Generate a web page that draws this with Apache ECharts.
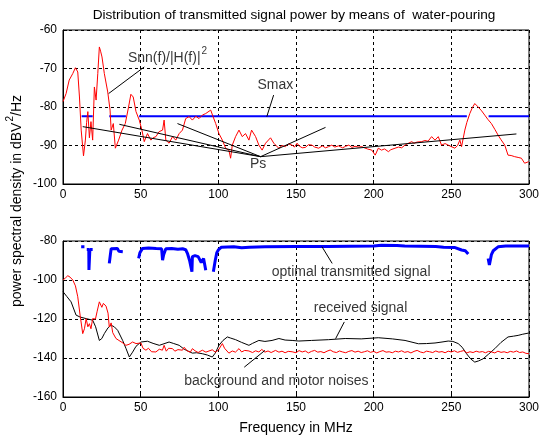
<!DOCTYPE html>
<html><head><meta charset="utf-8">
<script src="https://cdn.jsdelivr.net/npm/echarts@6/dist/echarts.min.js"></script>
<style>html,body{margin:0;padding:0;background:#fff}#c{width:542px;height:438px}</style>
</head><body><div id="c"></div>
<script>
// ---------- DATA ----------
const xTicks = [0, 50, 100, 150, 200, 250, 300];
const topYTicks = [-100, -90, -80, -70, -60];
const botYTicks = [-160, -140, -120, -100, -80];

// top plot: Snn(f)/|H(f)|^2  [MHz, dB]
const snnOverH = [
[0,-78.6],[2,-76.5],[4,-73],[5,-72.5],[6.3,-71.3],[8,-69.8],[9.5,-70.9],[10.6,-77.4],[11.7,-86],[13.2,-92.7],
[14.4,-88.6],[15.2,-84],[16,-81.2],[17,-88],[18,-83.8],[19.1,-88.6],[20.2,-74.8],[21.3,-78.2],[22.4,-71.3],[23.4,-64.4],
[24.2,-65.5],[25.1,-67],[26.6,-71.3],[28.8,-76.1],[30.3,-80.8],[31,-86],[32.4,-84.3],[33.7,-90.7],[35.8,-88.6],[38,-86],
[40.1,-84.3],[42.2,-80],[43.7,-76.7],[45.2,-77.4],[47,-81.2],[49.1,-83.4],[50.8,-86],[52.3,-89],[54.4,-86.9],[56.6,-88.6],
[58,-88],[59.8,-87.7],[61.9,-86.4],[64.1,-86],[65.1,-83.4],[66.2,-88.6],[68.3,-89.4],[70.5,-87.7],[72.6,-88.6],[74.8,-86.9],
[76.9,-86],[79,-83],[81.2,-82.5],[83.3,-83.4],[85.5,-82.4],[87.6,-83],[89.7,-82.1],[91.9,-81.7],[95.1,-80.8],[96.6,-82.5],
[98.3,-84.3],[100.4,-86.9],[102.6,-88.6],[104.7,-90.7],[106.8,-91.2],[107.9,-93.3],[109,-89.9],[111.1,-87.7],[113.3,-86],[115.4,-87.7],
[117.5,-86.9],[119.7,-88.6],[121.4,-86],[124,-87.7],[126.1,-89.9],[128.2,-91.2],[130.4,-89.4],[133.6,-88],[135.7,-89.4],[138.9,-90.7],
[141,-90],[143.2,-90.3],[145,-89.6],[147.5,-89.9],[149,-90.4],[150.7,-89.4],[152,-90.1],[154,-90.6],[156,-90.5],[158,-89.8],
[160.3,-89.9],[162,-90.4],[164.6,-90.7],[167,-90.1],[169,-90.6],[171,-90.3],[173,-89.9],[175,-90.4],[177.4,-90.1],[180,-90.6],
[182,-90.2],[184,-89.9],[186,-90.5],[188,-90.2],[190,-90.4],[192.4,-90.3],[194,-90.6],[196,-90.9],[198.8,-91.2],[200,-91.5],
[201,-92.5],[203,-90.7],[205,-91.2],[207,-90.9],[209.5,-91.6],[211,-91.1],[213.8,-90.7],[216,-90.4],[218,-90.6],[220.2,-89.9],
[222,-89.5],[224.5,-89],[226,-89.4],[228,-89.1],[230.9,-89],[233,-88.7],[235,-88.9],[237.3,-87.7],[239.5,-88.6],[241.6,-87.7],
[243.7,-89.9],[246,-89.5],[248,-89.9],[250,-90.3],[252.3,-90.7],[254,-90],[255.5,-88.6],[256.6,-90.3],[258.7,-86],[260,-84],
[261.9,-81.7],[263.5,-80.2],[265.1,-79.1],[267.3,-80],[269.5,-81],[271.5,-82.1],[273.5,-83.2],[275.8,-84.3],[278,-85.8],[280.1,-87.3],
[282,-88.5],[284.4,-89.9],[286.5,-92.5],[288.5,-92.6],[290.8,-92.9],[293,-93.1],[295.1,-93.3],[297.2,-94.6],[299.8,-94.2]
];
// top plot: Smax level and the frequency ranges where it is drawn
const smaxLevel = -82.4;
const smaxRanges = [[12,19.1],[29.8,40.5],[49,260],[274,300]];
// top plot: Ps convergence point and the line ends pointing at it
const psPoint = [127.2, -92.9];
const psEnds = [[12.7,-85.1],[36.3,-84.5],[73.7,-84.3],[169,-85.3],[291.9,-87]];

// bottom plot: optimal transmitted signal (null = gap)
const optimalTx = [
[11.7,-82.9],[13.8,-82.9],null,
[15.3,-84.3],[16.6,-84.3],[16.7,-94.9],[17.2,-94.9],[17.3,-84.3],[19.1,-84.3],null,
[29.8,-91.5],[30.5,-87],[31,-84],[32,-83.6],[35,-83.8],[36,-85.3],[38.5,-85.5],null,
[48.7,-88.9],[49.5,-86],[51.2,-83.8],[55,-83.6],[60,-83.9],[63.5,-84],[64.1,-89.8],[64.8,-87],[66.2,-84],[70,-83.8],
[74,-84.2],[77,-84],[79,-84.5],[80.1,-86.3],[81.5,-90],[83,-95.8],[83.3,-88],[85,-87.5],[87,-88],[87.6,-87],
[89,-91],[90.5,-89],[91.9,-95],null,
[96.8,-95.8],[98,-90],[99,-86],[100,-84.6],[102,-83.2],[110,-83],[115,-83.5],[120,-83.2],[130,-83],[150,-82.8],
[170,-82.8],[200,-82.6],[205,-82.2],[215,-82.3],[220,-82.6],[240,-82.8],[245,-83.2],[252,-83.3],[256.6,-84.6],[259,-85],[260.9,-86.7],null,
[273.7,-89],[274.5,-92.3],[275.8,-87],[277,-85],[280.1,-83],[285,-82.6],[300,-82.6]
];
// bottom plot: received signal
const receivedSig = [
[0,-106],[2.5,-108.5],[5.2,-111.2],[8.4,-118],[11,-119],[14.9,-119.8],[19.1,-120.6],[21,-124],[23.4,-131],[25,-130],
[26.6,-127.5],[29,-124.5],[31,-123.2],[33,-124],[35.2,-125.8],[38.4,-131],[40.5,-135],[42.7,-139.5],[43.7,-139.8],[44.8,-137],
[47,-134],[50.2,-131.8],[54.4,-131.4],[58,-132.5],[62,-133.5],[65,-132.7],[68.3,-131.8],[71,-132.5],[74.8,-133.5],[78,-135.5],
[83.3,-137.5],[86,-137.3],[89.7,-137.8],[93,-138.5],[96.1,-139.5],[98,-137.5],[100.4,-133.5],[103,-131],[105.8,-129.2],[108,-129.8],
[111.1,-130.6],[115,-132],[119.7,-133.5],[122,-132.5],[126.1,-131],[130,-131.5],[134.6,-131],[139,-130],[143,-130.8],[147.5,-131],
[151.8,-131.3],[160,-131],[171,-130.6],[181.7,-130],[192,-130.2],[203,-129.6],[212,-130.2],[220.2,-131],[228.8,-132.7],[234,-132.6],
[239.5,-132.3],[244,-131.8],[248,-131.3],[251,-131.5],[254.4,-132.6],[257,-134.5],[259.8,-137.8],[262.5,-140.5],[265.1,-142.1],[267.5,-141.5],
[270.5,-140.4],[274,-138],[278,-135.2],[282,-132],[286.5,-129.2],[290,-128.8],[293,-128.4],[296,-127.8],[299.8,-127.2]
];
// bottom plot: background and motor noises
const bgNoise = [
[0,-100],[1.5,-99],[3.1,-97.8],[4.5,-98.5],[6.3,-100],[8,-103],[9.5,-108.6],[11,-118],[12.7,-127.5],[13.8,-125],
[14.9,-119.8],[16,-124],[17,-122.4],[18,-125],[19.1,-119.8],[20.9,-120],[22,-116],[23.4,-111.2],[25,-114],[26,-112],
[27.7,-113.4],[29,-117],[29.8,-124.1],[31,-122],[32,-127],[34.1,-130],[36,-131],[38,-132],[40.5,-133.5],[42.5,-133],
[44.8,-131.8],[47,-132.6],[50.2,-132.3],[51.5,-135],[53.4,-136],[55,-135],[57,-136.8],[59.8,-136.9],[62,-135.5],[64,-136],
[65.1,-133.5],[66.5,-136.5],[68,-135],[70.5,-135.2],[72,-136.5],[74,-135.7],[76.9,-136],[78,-134.5],[80,-136.4],[82,-137],
[83.3,-135.2],[85,-136.3],[87,-137.2],[89.7,-136],[92,-137],[94,-136.4],[96.1,-135.8],[98,-137],[100,-136],[102.6,-132.6],
[104,-135],[106.8,-137.5],[109,-136.4],[111,-137],[113.3,-135.2],[115,-136.9],[117,-136.1],[119.7,-136.4],[122,-137.2],[124,-136.3],
[126.1,-136.9],[128,-135.6],[130,-137],[132,-136.4],[134,-137.2],[136.8,-136.1],[139,-137],[141,-136.5],[143,-137.3],[145,-136.6],
[147.5,-136.8],[150,-137.3],[152,-136.2],[154,-136.9],[156,-136.4],[158,-137.4],[160,-136.6],[162,-136.1],[164,-137],[166,-136.7],
[168,-137.3],[170,-136.5],[172,-135.9],[174,-136.8],[176,-137.2],[178,-136.4],[180,-136.9],[182,-137.3],[184,-136.6],[186,-136.2],
[188,-137],[190,-136.5],[192,-137.2],[194,-136.8],[196,-136.3],[198,-137.1],[200,-136.6],[202,-137.4],[204,-136.7],[206,-136.2],
[208,-137],[210,-136.8],[212,-137.3],[214,-136.5],[216,-136.9],[218,-136.3],[220,-137.1],[222,-136.7],[224,-137.4],[226,-136.6],
[228,-136.1],[230,-136.9],[232,-137.3],[234,-136.5],[236,-136.8],[238,-137.2],[240,-136.4],[242,-137],[244,-136.7],[246,-137.3],
[248,-136.5],[250,-136.9],[252,-136.3],[254,-137.1],[256,-136.6],[258,-136.2],[260,-137.4],[262,-136.8],[264,-137.2],[266,-136.5],
[268,-137],[270,-136.7],[272,-137.3],[274,-136.6],[276,-136.9],[278,-137.4],[280,-136.5],[282,-137.1],[284,-136.8],[286,-137.3],
[288,-136.6],[290,-137],[292,-136.4],[294,-137.2],[296,-136.9],[298,-137.6],[300,-137.8]
];

// annotation texts
const titleText = 'Distribution of transmitted signal power by means of  water-pouring';
const xAxisTitle = 'Frequency in MHz';
const topLabels = [
  {text: '{n|Snn(f)/|H(f)|}{s|2}', at: [41.8, -66.6], align: 'left'},
  {text: 'Smax', at: [136.7, -74.2], align: 'center'},
  {text: 'Ps', at: [125.6, -94.8], align: 'center'}
];
const topPointers = [[[29.4,-76.5],[52.3,-69.6]], [[131.2,-82.5],[135.6,-76.9]]];
const botLabels = [
  {text: 'optimal transmitted signal', at: [134.4, -95.8], align: 'left'},
  {text: 'received signal', at: [161.5, -114.6], align: 'left'},
  {text: 'background and motor noises', at: [78, -152], align: 'left'}
];
const botPointers = [[[166.7,-82.9],[173.3,-91.5]], [[181.1,-121.5],[175.5,-130.1]], [[116.7,-144.7],[130,-136.1]]];

// ---------- BUILD ----------
const FONT = 'Liberation Sans, Arial, sans-serif';
const ANN = 14;
function joinSegments(list) {
  const out = [];
  list.forEach((seg, i) => { if (i) out.push(null); seg.forEach(p => out.push(p)); });
  return out;
}
const smaxData = joinSegments(smaxRanges.map(r => [[r[0], smaxLevel], [r[1], smaxLevel]]));
const psData = joinSegments(psEnds.map(e => [e, psPoint]));

function xAxis(gi) {
  return {
    type: 'value', gridIndex: gi, min: xTicks[0], max: xTicks[xTicks.length - 1], interval: 50,
    axisLine: {show: true, onZero: false, lineStyle: {color: '#000', width: 1}},
    axisTick: {show: true, inside: true, length: 4, lineStyle: {color: '#000'}},
    axisLabel: {color: '#000', fontSize: 12, fontFamily: FONT, margin: 5},
    splitLine: {show: true, lineStyle: {color: '#000', type: [3, 3], width: 1}}
  };
}
function yAxis(gi, ticks) {
  return {
    type: 'value', gridIndex: gi, min: ticks[0], max: ticks[ticks.length - 1], interval: ticks[1] - ticks[0],
    axisLine: {show: true, onZero: false, lineStyle: {color: '#000', width: 1}},
    axisTick: {show: true, inside: true, length: 4, lineStyle: {color: '#000'}},
    axisLabel: {color: '#000', fontSize: 12, fontFamily: FONT, margin: 6},
    splitLine: {show: true, lineStyle: {color: '#000', type: [3, 3], width: 1}}
  };
}
function line(name, data, gi, color, width, z) {
  return {name, type: 'line', xAxisIndex: gi, yAxisIndex: gi, data, showSymbol: false, symbol: 'none',
    connectNulls: false, animation: false, z: z || 2, lineStyle: {color, width}};
}
function labelSeries(labels, gi) {
  return labels.map(l => ({
    type: 'scatter', xAxisIndex: gi, yAxisIndex: gi, symbolSize: 0, animation: false, z: 5, silent: true,
    data: [l.at],
    label: {show: true, position: 'inside', formatter: l.text, color: '#000', fontFamily: FONT, fontSize: ANN,
      align: l.align, verticalAlign: 'middle',
      rich: {n: {fontSize: ANN, fontFamily: FONT, color: '#000', padding: [5, 0, 0, 0]},
             s: {fontSize: 10, fontFamily: FONT, color: '#000', verticalAlign: 'top', padding: [0, 0, 6, 1]}}}
  }));
}

const chart = echarts.init(document.getElementById('c'), null, {renderer: 'canvas'});
chart.setOption({
  backgroundColor: '#fff',
  animation: false,
  grid: [
    {left: 63, right: 11, top: 30, height: 154, show: true, borderColor: '#000', borderWidth: 1, backgroundColor: '#fff'},
    {left: 63, right: 11, top: 241, height: 156, show: true, borderColor: '#000', borderWidth: 1, backgroundColor: '#fff'}
  ],
  xAxis: [xAxis(0), xAxis(1)],
  yAxis: [yAxis(0, topYTicks), yAxis(1, botYTicks)],
  graphic: [
    {type: 'text', x: 294, y: 15, style: {text: titleText, fill: '#000', font: '13.6px ' + FONT, textAlign: 'center', textVerticalAlign: 'middle'}},
    {type: 'text', x: 296, y: 428, style: {text: xAxisTitle, fill: '#000', font: '14px ' + FONT, textAlign: 'center', textVerticalAlign: 'middle'}},
    {type: 'text', x: 15, y: 201, rotation: Math.PI / 2,
      style: {text: '{a|power spectral density in dBV}{s|2}{a|/Hz}', fill: '#000', textAlign: 'center', textVerticalAlign: 'middle',
        rich: {a: {fontSize: 14, fontFamily: FONT, fill: '#000', padding: [5, 0, 0, 0]}, s: {fontSize: 10, fontFamily: FONT, fill: '#000', verticalAlign: 'top', padding: [0, 0, 6, 1]}}}}
  ],
  series: [
    line('Smax', smaxData, 0, '#0000ff', 2.2, 2),
    line('Snn/H2', snnOverH, 0, '#ff0000', 1, 3),
    line('Ps', psData, 0, '#000', 1, 4),
    ...topPointers.map(p => line('ptr', p, 0, '#000', 1, 4)),
    ...labelSeries(topLabels, 0),
    line('optimal transmitted signal', optimalTx, 1, '#0000ff', 3, 2),
    line('received signal', receivedSig, 1, '#000', 1, 3),
    line('background and motor noises', bgNoise, 1, '#ff0000', 1, 3),
    ...botPointers.map(p => line('ptr', p, 1, '#000', 1, 4)),
    ...labelSeries(botLabels, 1)
  ]
});
</script></body></html>
